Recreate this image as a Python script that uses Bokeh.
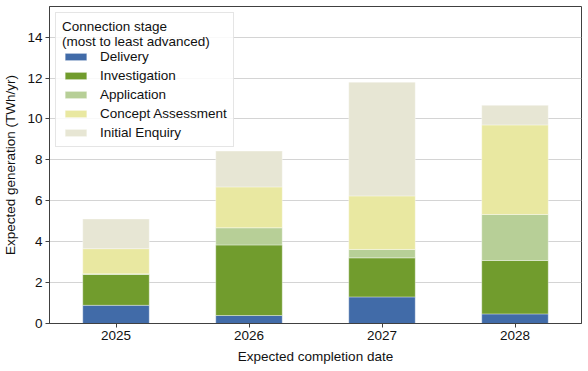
from bokeh.plotting import figure
from bokeh.models import Legend, LegendItem, FixedTicker, Range1d, FactorRange, ColumnDataSource
from bokeh.embed import file_html
from bokeh.resources import INLINE

years = ["2025", "2026", "2027", "2028"]
delivery = [0.89, 0.39, 1.30, 0.47]
investigation = [1.51, 3.45, 1.91, 2.61]
application = [0.03, 0.84, 0.41, 2.25]
concept = [1.23, 2.00, 2.62, 4.38]
initial = [1.45, 1.75, 5.56, 0.96]
stages = ["Delivery", "Investigation", "Application", "Concept Assessment", "Initial Enquiry"]
keys = ["delivery", "investigation", "application", "concept", "initial"]
colors = ["#416BA8", "#719C2D", "#B7CF97", "#E9E8A1", "#E7E6D4"]
y_ticks = [0, 2, 4, 6, 8, 10, 12, 14]

source = ColumnDataSource(dict(years=years, delivery=delivery, investigation=investigation,
                               application=application, concept=concept, initial=initial))

FONT = "Liberation Sans"
FS = "13.5px"

p = figure(width=588, height=371,
           x_range=FactorRange(factors=years, range_padding=0),
           y_range=Range1d(0, 15.5), output_backend="svg", toolbar_location=None,
           min_border_left=49, min_border_right=7, min_border_top=6, min_border_bottom=48)

renderers = p.vbar_stack(keys, x="years", width=0.5, source=source, color=colors,
                         line_color="white", line_width=0.6, line_alpha=0.6)

p.outline_line_color = "#404040"
p.outline_line_width = 1
p.xgrid.grid_line_color = None
p.ygrid.grid_line_color = "#d4d4d4"
p.ygrid.grid_line_width = 1
p.yaxis.ticker = FixedTicker(ticks=y_ticks)

for ax in (p.xaxis[0], p.yaxis[0]):
    ax.axis_line_color = "#404040"
    ax.major_tick_line_color = "#404040"
    ax.major_tick_out = 4
    ax.major_tick_in = 0
    ax.minor_tick_line_color = None
    ax.major_label_text_font = FONT
    ax.major_label_text_font_size = FS
    ax.major_label_text_color = "#111111"
    ax.axis_label_text_font = FONT
    ax.axis_label_text_font_size = FS
    ax.axis_label_text_font_style = "normal"
    ax.axis_label_text_color = "#111111"

p.yaxis.major_label_standoff = 3
p.yaxis.axis_label_standoff = 6
p.xaxis.major_label_standoff = 3
p.xaxis.axis_label_standoff = 6

p.xaxis.axis_label = "Expected completion date"
p.yaxis.axis_label = "Expected generation (TWh/yr)"

items = [LegendItem(label=s, renderers=[r]) for s, r in zip(stages, renderers)]
legend = Legend(items=items, location="top_left", margin=6,
                title="Connection stage\n(most to least advanced)",
                title_text_font=FONT, title_text_font_size=FS, title_text_font_style="normal",
                title_text_color="#111111", title_standoff=0, title_text_line_height=1.0,
                label_text_font=FONT, label_text_font_size=FS, label_text_color="#111111",
                glyph_width=27, glyph_height=9, label_height=15, spacing=4,
                padding=6, label_standoff=11,
                border_line_color="#cccccc", border_line_width=1,
                background_fill_color="white", background_fill_alpha=0.85)
p.add_layout(legend)

open("out.html", "w").write(file_html(p, INLINE))
